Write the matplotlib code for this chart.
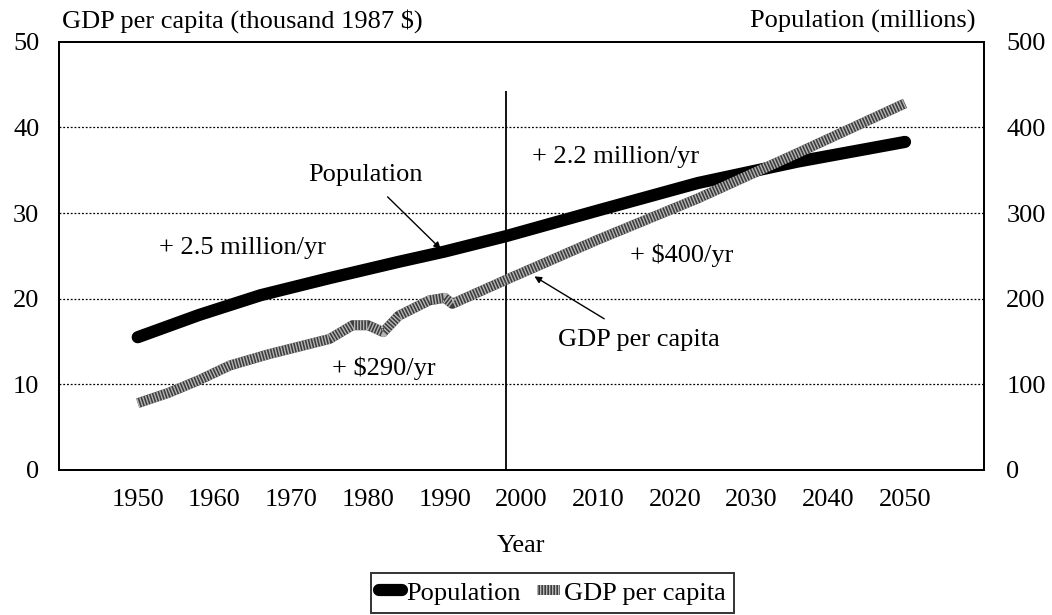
import matplotlib
matplotlib.use("Agg")
import matplotlib.pyplot as plt

plt.rcParams['font.family'] = ['Liberation Serif', 'DejaVu Serif']
plt.rcParams['font.size'] = 19

# data
gdp_years = [1950, 1954, 1958, 1962, 1967, 1971, 1975, 1978, 1980, 1982, 1984,
             1988, 1990, 1991, 1995, 1998, 2010, 2023, 2036, 2050]
gdp = [7.8, 9.0, 10.5, 12.2, 13.5, 14.4, 15.3, 16.9, 16.9, 16.1, 18.0,
       19.8, 20.1, 19.4, 21.0, 22.2, 26.9, 31.7, 37.0, 42.8]

pop_years = [1950, 1958, 1966, 1975, 1984, 1990, 1998, 2010, 2023, 2036, 2050]
pop = [155, 181, 204, 224, 243, 255, 273, 303, 335, 360, 383]

xticks = [1950, 1960, 1970, 1980, 1990, 2000, 2010, 2020, 2030, 2040, 2050]
split_year = 1998

fig = plt.figure(figsize=(10.52, 6.15), dpi=100)
ax = fig.add_axes([0.0558, 0.2358, 0.8796, 0.6964])
ax2 = ax.twinx()

ax.set_xlim(1939.7, 2060.3)
ax.set_ylim(0, 50)
ax2.set_ylim(0, 500)
ax.set_yticks([0, 10, 20, 30, 40, 50])
ax2.set_yticks([0, 100, 200, 300, 400, 500])
ax.set_xticks(xticks)
ax.tick_params(length=0, pad=14)
ax2.tick_params(length=0, pad=16)
for a in (ax, ax2):
    for s in a.spines.values():
        s.set_linewidth(1.4)

for v in [10, 20, 30, 40]:
    ax.axhline(v, color='black', lw=0.9, ls=(0, (1.5, 1.5)), zorder=1)

ax.vlines(split_year, 0, 44.3, color='black', lw=1.3, zorder=2)

# GDP: textured grey line
g1, = ax.plot(gdp_years, gdp, color='#3c3c3c', lw=7.2, solid_capstyle='butt',
              solid_joinstyle='round', zorder=3)
g2, = ax.plot(gdp_years, gdp, color='#b4b4b4', lw=7.2, ls=(0, (0.14, 0.16)),
              dash_capstyle='butt', zorder=4)
p1, = ax2.plot(pop_years, pop, color='black', lw=8.8, solid_capstyle='round',
               solid_joinstyle='round', zorder=5)

ax.set_xlabel('Year', labelpad=17)

fig.text(0.059, 0.965, 'GDP per capita (thousand 1987 $)', ha='left', va='center')
fig.text(0.927, 0.965, 'Population (millions)', ha='right', va='center')

ax.annotate('Population', xy=(1989.5, 25.8), xytext=(1979.7, 34.4),
            ha='center', va='center',
            arrowprops=dict(arrowstyle='-|>', color='black', lw=1, mutation_scale=10,
                            shrinkA=8, shrinkB=0))
ax.annotate('GDP per capita', xy=(2001.7, 22.6), xytext=(2015.3, 15.2),
            ha='center', va='center',
            arrowprops=dict(arrowstyle='-|>', color='black', lw=1, mutation_scale=10,
                            shrinkA=10, shrinkB=0))
ax.text(1963.6, 25.9, '+ 2.5 million/yr', ha='center', va='center')
ax.text(1982.1, 11.9, '+ $290/yr', ha='center', va='center')
ax.text(2012.3, 36.5, '+ 2.2 million/yr', ha='center', va='center')
ax.text(2020.9, 25.1, '+ $400/yr', ha='center', va='center')

ax.set_zorder(ax2.get_zorder() + 1)
ax.patch.set_visible(False)

leg = fig.legend([p1, (g1, g2)], ['Population', 'GDP per capita'],
                 loc='center', bbox_to_anchor=(0.525, 0.036), ncol=2,
                 frameon=True, fancybox=False, edgecolor='black',
                 handlelength=0.9, handletextpad=0.15, columnspacing=0.6,
                 borderpad=0.3, borderaxespad=0)
leg.get_frame().set_linewidth(1.4)

fig.savefig('out.png', dpi=100)
